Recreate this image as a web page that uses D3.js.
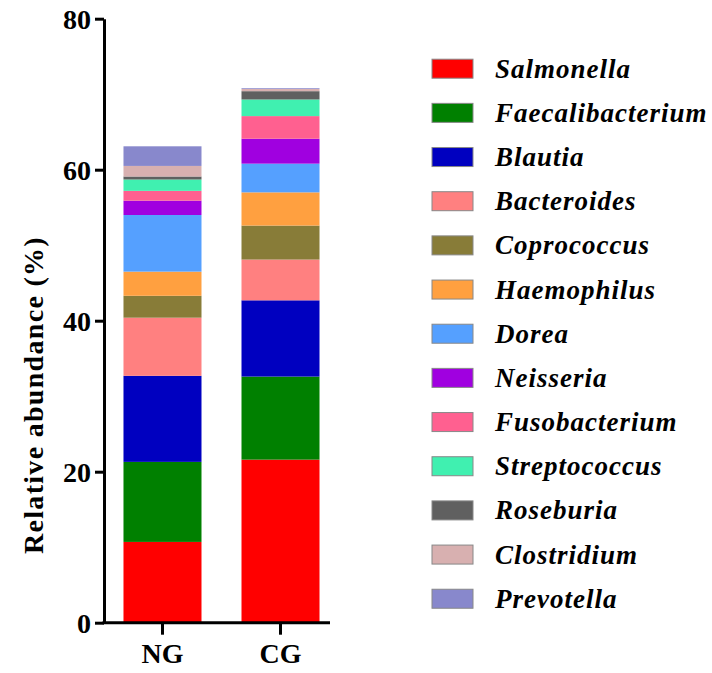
<!DOCTYPE html>
<html><head><meta charset="utf-8">
<script src="https://cdn.jsdelivr.net/npm/d3@7"></script>
<style>body{margin:0;background:#fff}svg{display:block}</style>
</head><body>
<script>
const groups = ["NG", "CG"];
const taxa = ["Salmonella","Faecalibacterium","Blautia","Bacteroides","Coprococcus","Haemophilus","Dorea","Neisseria","Fusobacterium","Streptococcus","Roseburia","Clostridium","Prevotella"];
const ngValues = [10.7, 10.6, 11.4, 7.7, 2.9, 3.2, 7.5, 1.9, 1.3, 1.5, 0.4, 1.4, 2.6];
const cgValues = [21.6, 11.0, 10.1, 5.4, 4.5, 4.4, 3.8, 3.3, 3.0, 2.2, 1.1, 0.3, 0.1];
const colors = ["#FF0000","#008000","#0000C0","#FF8080","#887C38","#FFA040","#55A0FF","#A000E0","#FF6090","#40F0B0","#606060","#D8B0B0","#8888CC"];
const yTicks = [0, 20, 40, 60, 80];

const W = 712, H = 673;
const svg = d3.select("body").append("svg").attr("width", W).attr("height", H);
const font = "'Liberation Serif','Times New Roman',serif";

const y = d3.scaleLinear().domain([0, 80]).range([622.7, 18.7]);
const x = d3.scaleBand().domain(groups).range([104, 330]).paddingInner(0.339).paddingOuter(0.127).align(0.65);
const color = d3.scaleOrdinal().domain(taxa).range(colors);

const table = groups.map(g => { const o = {group: g}; taxa.forEach((t, i) => o[t] = (g === "NG" ? ngValues : cgValues)[i]); return o; });
const series = d3.stack().keys(taxa)(table);

svg.append("g").selectAll("g").data(series).join("g")
  .attr("fill", d => color(d.key))
  .selectAll("rect").data(d => d).join("rect")
  .attr("x", d => x(d.data.group))
  .attr("width", x.bandwidth())
  .attr("y", d => y(d[1]))
  .attr("height", d => y(d[0]) - y(d[1]));

// Y axis
const yAxis = svg.append("g").attr("transform", "translate(104,0)")
  .call(d3.axisLeft(y).tickValues(yTicks).tickSize(9).tickSizeOuter(0).tickPadding(4));
yAxis.select(".domain").attr("stroke", "#000").attr("stroke-width", 3);
yAxis.selectAll(".tick line").attr("stroke", "#000").attr("stroke-width", 3);
yAxis.selectAll(".tick text").attr("font-family", font).attr("font-weight", "bold").attr("font-size", 28).attr("fill", "#000").attr("dy", "0.34em");

// X axis
const xAxis = svg.append("g").attr("transform", "translate(0,622.7)")
  .call(d3.axisBottom(x).tickSize(12).tickSizeOuter(0).tickPadding(8));
xAxis.select(".domain").attr("stroke", "#000").attr("stroke-width", 3).attr("d", "M102.5,0H330");
xAxis.selectAll(".tick line").attr("stroke", "#000").attr("stroke-width", 3);
xAxis.selectAll(".tick text").attr("font-family", font).attr("font-weight", "bold").attr("font-size", 28).attr("fill", "#000");

// Y title
svg.append("text").attr("transform", "translate(43,395) rotate(-90)")
  .attr("text-anchor", "middle").attr("font-family", font).attr("font-weight", "bold").attr("font-size", 28)
  .attr("letter-spacing", 1.3)
  .text("Relative abundance (%)");

// Legend
const legend = svg.append("g").selectAll("g").data(taxa).join("g")
  .attr("transform", (d, i) => `translate(432,${68.7 + i * 44.17})`);
legend.append("rect").attr("x", 0).attr("y", -9.5).attr("width", 41).attr("height", 19)
  .attr("fill", d => color(d)).attr("stroke", "#888").attr("stroke-width", 1);
legend.append("text").attr("x", 63).attr("y", 9)
  .attr("font-family", font).attr("font-weight", "bold").attr("font-style", "italic").attr("font-size", 27)
  .attr("letter-spacing", 1)
  .text(d => d);
</script>
</body></html>
